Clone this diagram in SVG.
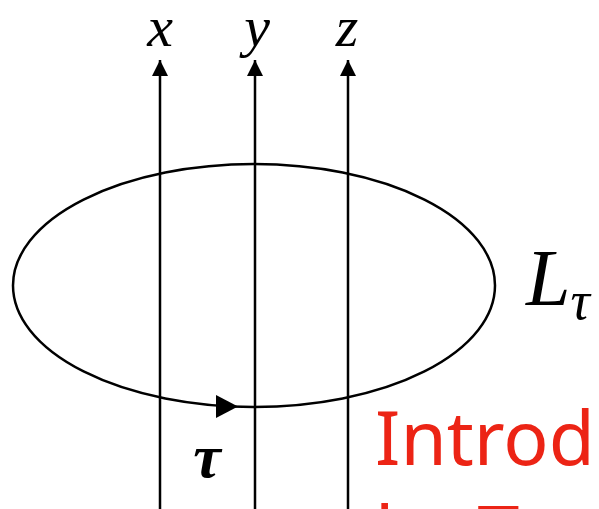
<svg xmlns="http://www.w3.org/2000/svg" width="599" height="509" viewBox="0 0 599 509">
  <style>
    .ln { stroke: #000; stroke-width: 2.5; fill: none; }
    .math { font-family: "Liberation Serif", "DejaVu Serif", serif; font-style: italic; fill: #000; }
    .red { font-family: "Noto Sans", "Liberation Sans", sans-serif; fill: #ec2415; font-size: 75px; }
  </style>
  <defs>
    <marker id="ah" viewBox="0 0 10 10" refX="10" refY="5" markerWidth="6.5" markerHeight="6.5" markerUnits="strokeWidth" orient="auto">
      <path d="M0,0 L10,5 L0,10 Z" fill="#000"/>
    </marker>
  </defs>
  <g id="loop">
    <ellipse class="ln" cx="254" cy="285.5" rx="241" ry="121.5"/>
    <path d="M216,395 L238,406.5 L216,418 Z" fill="#000"/>
  </g>
  <g id="connectors">
    <line class="ln" x1="160" y1="509" x2="160" y2="60" marker-end="url(#ah)"/>
    <line class="ln" x1="255" y1="509" x2="255" y2="60" marker-end="url(#ah)"/>
    <line class="ln" x1="348" y1="509" x2="348" y2="60" marker-end="url(#ah)"/>
  </g>
  <g id="label-x"><text class="math" x="160" y="46" font-size="58" text-anchor="middle">x</text></g>
  <g id="label-y"><text class="math" x="257" y="46" font-size="58" text-anchor="middle">y</text></g>
  <g id="label-z"><text class="math" x="347" y="46" font-size="58" text-anchor="middle">z</text></g>
  <g id="label-tau"><text class="math" x="207" y="477" font-size="62" text-anchor="middle" font-weight="bold">τ</text></g>
  <g id="label-L"><text class="math" x="526" y="305" font-size="80">L<tspan font-size="54" dy="14">τ</tspan></text></g>
  <g id="note">
    <text class="red" x="375" y="465">Introd</text>
    <text class="red" x="375" y="560">by T</text>
  </g>
</svg>
